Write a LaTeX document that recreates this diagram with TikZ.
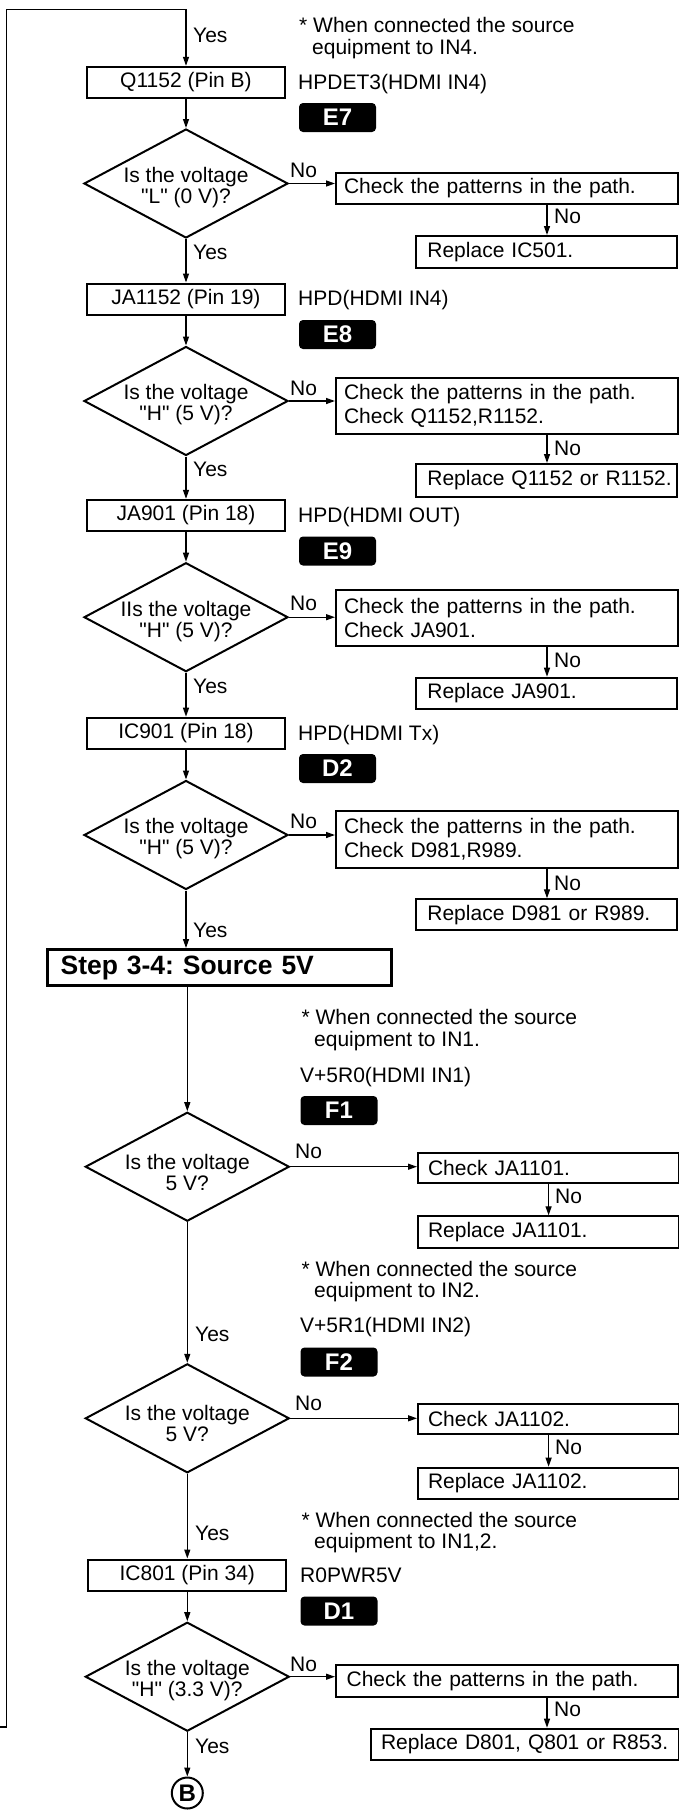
\documentclass[tikz,border=0pt]{standalone}
\usepackage{fontspec}
\setmainfont{Liberation Sans}[Ligatures=TeXOff]
\usetikzlibrary{shapes.geometric,arrows.meta}
\frenchspacing
\begin{document}
\begin{tikzpicture}[x=1pt,y=-1pt,
  txt/.style={font=\fontsize{21pt}{24pt}\selectfont},
  lbox/.style={draw, line width=2pt, minimum width=198pt, minimum height=31pt, inner sep=0pt, txt},
  box/.style={draw, line width=2pt, anchor=north west, align=left, inner ysep=0pt, txt},
  wide/.style={box, minimum width=341.5pt, text width=325.5pt, inner xsep=8pt},
  mid/.style={box, minimum width=261pt, text width=239pt, inner xsep=11pt},
  low/.style={box, minimum width=260.8pt, text width=240.8pt, inner xsep=10pt},
  dia/.style={draw, line width=2pt, diamond, minimum width=204pt, minimum height=109pt, inner sep=0pt},
  dtxt/.style={align=center, inner sep=0pt, font=\fontsize{21pt}{21pt}\selectfont},
  lab/.style={anchor=base west, inner sep=0pt, txt},
  badge/.style={fill=black, rounded corners=4pt, minimum width=77pt, minimum height=29pt, inner sep=0pt, text=white, font=\bfseries\fontsize{24pt}{24pt}\selectfont},
  stepbox/.style={draw, line width=2.5pt, minimum width=344pt, minimum height=36.4pt, text width=318pt, inner xsep=13pt, inner ysep=0pt, align=left, font=\bfseries\fontsize{26.5pt}{28pt}\selectfont},
  circ/.style={draw, circle, line width=2pt, minimum size=31pt, inner sep=0pt, font=\bfseries\fontsize{24pt}{24pt}\selectfont},
  arr/.style={line width=1.3pt, -{Triangle[length=9pt,width=6pt]}},
]
\fill[white] (0,0) rectangle (678,1810);
\useasboundingbox (0,0) rectangle (678,1810);

% ---------- left column ----------
\node[lbox] (q1152) at (186,82.3) {Q1152 (Pin B)};
\node[dia] (d1) at (186,183.5) {};
\node[dtxt] (d1t) at (186,187.5) {Is the voltage\\"L" (0 V)?};
\node[lbox] (ja1152) at (186,299) {JA1152 (Pin 19)};
\node[dia] (d2) at (186,401) {};
\node[dtxt] (d2t) at (186,405) {Is the voltage\\"H" (5 V)?};
\node[lbox] (ja901) at (186,515.3) {JA901 (Pin 18)};
\node[dia] (d3) at (186,617.2) {};
\node[dtxt] (d3t) at (186,621.2) {IIs the voltage\\"H" (5 V)?};
\node[lbox] (ic901) at (186,733.2) {IC901 (Pin 18)};
\node[dia] (d4) at (186,835) {};
\node[dtxt] (d4t) at (186,839) {Is the voltage\\"H" (5 V)?};
\node[stepbox] (step) at (219.65,967.5) {Step 3-4: Source 5V};
\node[dia] (d5) at (187.3,1166.7) {};
\node[dtxt] (d5t) at (187.3,1172) {Is the voltage\\5 V?};
\node[dia] (d6) at (187.3,1418.3) {};
\node[dtxt] (d6t) at (187.3,1423.6) {Is the voltage\\5 V?};
\node[lbox] (ic801) at (187.3,1575) {IC801 (Pin 34)};
\node[dia] (d7) at (187.3,1676.7) {};
\node[dtxt] (d7t) at (187.3,1680.7) {Is the voltage\\"H" (3.3 V)?};
\node[circ] (B) at (187.3,1793) {B};

% ---------- right column ----------
\node[wide, minimum height=30.5pt] (c1) at (335,172) {Check the patterns in the path.};
\node[mid, minimum height=31.7pt] (r1) at (415.4,235) {Replace IC501.};
\node[wide, minimum height=56pt] (c2) at (335,377) {Check the patterns in the path.\\Check Q1152,R1152.};
\node[mid, minimum height=32.7pt] (r2) at (415.4,463) {\mbox{Replace Q1152 or R1152.}};
\node[wide, minimum height=55.7pt] (c3) at (335,589.3) {Check the patterns in the path.\\Check JA901.};
\node[mid, minimum height=31pt] (r3) at (415.4,676.7) {Replace JA901.};
\node[wide, minimum height=56.7pt] (c4) at (335,810) {Check the patterns in the path.\\Check D981,R989.};
\node[mid, minimum height=31pt] (r4) at (415.4,898.3) {Replace D981 or R989.};
\node[low, minimum height=30.6pt] (c5) at (417,1151.7) {Check JA1101.};
\node[low, minimum height=31.4pt] (r5) at (417,1215.3) {Replace JA1101.};
\node[low, minimum height=30pt] (c6) at (417,1403.3) {Check JA1102.};
\node[low, minimum height=31pt] (r6) at (417,1466.7) {Replace JA1102.};
\node[box, minimum width=341.5pt, text width=320.3pt, inner xsep=10.6pt, minimum height=31.7pt] (c7) at (335,1664.3) {Check the patterns in the path.};
\node[box, minimum width=308pt, text width=287pt, inner xsep=10.5pt, minimum height=31.6pt] (r7) at (369.5,1727.7) {\mbox{Replace D801, Q801 or R853.}};

% ---------- side notes and badges ----------
\node[lab] (n4a) at (299,32.7) {* When connected the source};
\node[lab] (n4b) at (312,54.7) {equipment to IN4.};
\node[lab] (s1) at (298,89.7) {HPDET3(HDMI IN4)};
\node[badge] (e7) at (337.5,117.5) {E7};
\node[lab] (s2) at (298,305.7) {HPD(HDMI IN4)};
\node[badge] (e8) at (337.5,334.5) {E8};
\node[lab] (s3) at (298,522.7) {HPD(HDMI OUT)};
\node[badge] (e9) at (337.5,551) {E9};
\node[lab] (s4) at (298,740.4) {HPD(HDMI Tx)};
\node[badge] (dd2) at (337.5,768.5) {D2};
\node[lab] (n1a) at (301.4,1024.4) {* When connected the source};
\node[lab] (n1b) at (314,1046.7) {equipment to IN1.};
\node[lab] (s5) at (300,1082.7) {V+5R0(HDMI IN1)};
\node[badge] (f1) at (339,1110.5) {F1};
\node[lab] (n2a) at (301.4,1276.7) {* When connected the source};
\node[lab] (n2b) at (314,1297.7) {equipment to IN2.};
\node[lab] (s6) at (300,1332.7) {V+5R1(HDMI IN2)};
\node[badge] (f2) at (339,1362) {F2};
\node[lab] (n3a) at (301.4,1527.7) {* When connected the source};
\node[lab] (n3b) at (314,1548.4) {equipment to IN1,2.};
\node[lab] (s7) at (300,1582.7) {R0PWR5V};
\node[badge] (dd1) at (339,1611) {D1};

% ---------- connectors ----------
\coordinate (entry) at (0,1727);
\coordinate (corner) at (6.5,9.3);
\coordinate (col) at (547,0);
\coordinate (colb) at (548.6,0);
\draw[arr] (entry) -| (corner) -| (q1152.north);
\draw[arr] (q1152) -- (d1);
\draw[arr] (d1) -- (ja1152);
\draw[arr] (ja1152) -- (d2);
\draw[arr] (d2) -- (ja901);
\draw[arr] (ja901) -- (d3);
\draw[arr] (d3) -- (ic901);
\draw[arr] (ic901) -- (d4);
\draw[arr] (d4.south) -- (d4.south |- step.north);
\draw[arr] (step.south -| d5.north) -- (d5.north);
\draw[arr] (d5) -- (d6);
\draw[arr] (d6) -- (ic801);
\draw[arr] (ic801) -- (d7);
\draw[arr] (d7) -- (B);

\draw[arr] (d1.east) -- (d1.east -| c1.west);
\draw[arr] (d2.east) -- (d2.east -| c2.west);
\draw[arr] (d3.east) -- (d3.east -| c3.west);
\draw[arr] (d4.east) -- (d4.east -| c4.west);
\draw[arr] (d5.east) -- (d5.east -| c5.west);
\draw[arr] (d6.east) -- (d6.east -| c6.west);
\draw[arr] (d7.east) -- (d7.east -| c7.west);

\draw[arr] (c1.south -| col) -- (r1.north -| col);
\draw[arr] (c2.south -| col) -- (r2.north -| col);
\draw[arr] (c3.south -| col) -- (r3.north -| col);
\draw[arr] (c4.south -| col) -- (r4.north -| col);
\draw[arr] (c5.south -| colb) -- (r5.north -| colb);
\draw[arr] (c6.south -| colb) -- (r6.north -| colb);
\draw[arr] (c7.south -| col) -- (r7.north -| col);

% ---------- Yes / No labels ----------
\node[lab] (y0) at (193,42.7) {Yes};
\node[lab] (y1) at (193,259.7) {Yes};
\node[lab] (y2) at (193,476.7) {Yes};
\node[lab] (y3) at (193,693.7) {Yes};
\node[lab] (y4) at (193,937.7) {Yes};
\node[lab] (y5) at (195,1341) {Yes};
\node[lab] (y6) at (195,1540.4) {Yes};
\node[lab] (y7) at (195,1753.7) {Yes};

\node[lab] (no1) at (290,177.7) {No};
\node[lab] (no2) at (290,395.7) {No};
\node[lab] (no3) at (290,610.7) {No};
\node[lab] (no4) at (290,828.7) {No};
\node[lab] (no5) at (295,1158.7) {No};
\node[lab] (no6) at (295,1410.4) {No};
\node[lab] (no7) at (290,1671) {No};

\node[lab] (nd1) at (554,223.7) {No};
\node[lab] (nd2) at (554,455.7) {No};
\node[lab] (nd3) at (554,667.7) {No};
\node[lab] (nd4) at (554,890.4) {No};
\node[lab] (nd5) at (555,1203.7) {No};
\node[lab] (nd6) at (555,1454.4) {No};
\node[lab] (nd7) at (554,1716) {No};
\end{tikzpicture}
\end{document}
